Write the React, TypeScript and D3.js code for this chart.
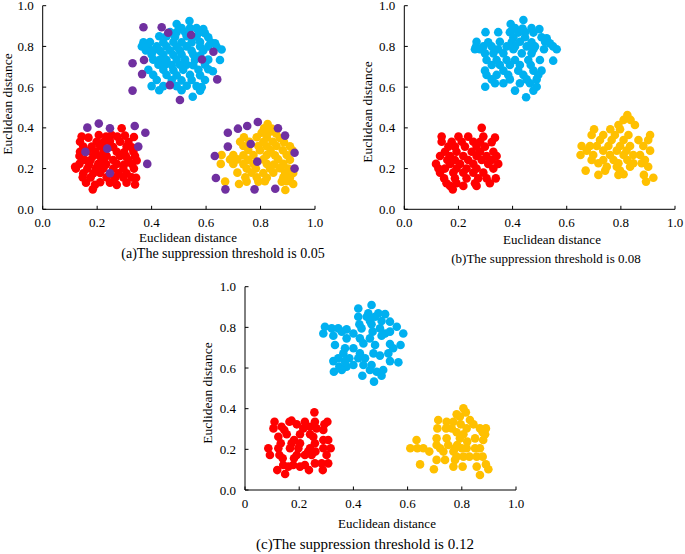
import React from "react";
import * as d3 from "d3";

type P = [number, number];

const xTicksA = ["0.0", "0.2", "0.4", "0.6", "0.8", "1.0"];
const xTicksC = ["0", "0.2", "0.4", "0.6", "0.8", "1.0"];
const yTicks = ["0.0", "0.2", "0.4", "0.6", "0.8", "1.0"];
const tickValues = [0, 0.2, 0.4, 0.6, 0.8, 1.0];

const captions = [
  "(a)The suppression threshold is 0.05",
  "(b)The suppression threshold is 0.08",
  "(c)The suppression threshold is 0.12",
];
const axisTitle = "Euclidean distance";

// Panel (a)
const blueA: P[] = [
  [0.539, 0.925], [0.492, 0.91], [0.51, 0.89], [0.541, 0.89], [0.565, 0.89], [0.59, 0.885],
  [0.468, 0.87], [0.492, 0.87], [0.523, 0.87], [0.575, 0.868], [0.596, 0.865],
  [0.428, 0.85], [0.455, 0.85], [0.486, 0.848], [0.529, 0.85], [0.565, 0.848], [0.608, 0.845],
  [0.37, 0.82], [0.394, 0.822], [0.443, 0.82], [0.48, 0.822], [0.51, 0.82], [0.547, 0.82], [0.578, 0.822], [0.617, 0.82], [0.633, 0.815],
  [0.364, 0.8], [0.388, 0.8], [0.419, 0.8], [0.455, 0.8], [0.492, 0.798], [0.529, 0.8], [0.578, 0.8], [0.608, 0.8], [0.639, 0.798], [0.657, 0.785],
  [0.379, 0.78], [0.406, 0.78], [0.431, 0.778], [0.468, 0.78], [0.504, 0.78], [0.547, 0.778], [0.59, 0.78],
  [0.4, 0.76], [0.443, 0.76], [0.48, 0.758], [0.51, 0.76], [0.553, 0.76], [0.578, 0.755],
  [0.406, 0.735], [0.431, 0.735], [0.455, 0.733], [0.492, 0.735], [0.523, 0.735], [0.559, 0.733], [0.608, 0.735], [0.651, 0.733],
  [0.425, 0.71], [0.449, 0.71], [0.474, 0.708], [0.504, 0.71], [0.529, 0.71], [0.553, 0.708], [0.596, 0.71],
  [0.388, 0.685], [0.443, 0.685], [0.48, 0.683], [0.516, 0.685], [0.572, 0.685], [0.608, 0.688], [0.625, 0.678],
  [0.406, 0.66], [0.455, 0.66], [0.492, 0.658], [0.541, 0.66], [0.578, 0.658],
  [0.419, 0.635], [0.474, 0.635], [0.51, 0.633], [0.547, 0.635], [0.596, 0.635],
  [0.4, 0.605], [0.443, 0.605], [0.492, 0.605], [0.529, 0.607], [0.565, 0.605], [0.584, 0.6],
  [0.428, 0.585], [0.51, 0.585], [0.578, 0.582], [0.551, 0.553],
];
const redA: P[] = [
  [0.29, 0.398], [0.206, 0.365], [0.253, 0.365], [0.302, 0.362],
  [0.143, 0.357], [0.168, 0.352], [0.233, 0.357], [0.274, 0.357], [0.335, 0.355],
  [0.137, 0.332], [0.198, 0.332], [0.223, 0.33], [0.247, 0.335], [0.284, 0.332], [0.315, 0.33],
  [0.149, 0.308], [0.18, 0.308], [0.211, 0.31], [0.259, 0.306], [0.308, 0.308], [0.327, 0.305],
  [0.137, 0.283], [0.164, 0.285], [0.193, 0.283], [0.223, 0.282], [0.272, 0.283], [0.299, 0.28], [0.333, 0.283],
  [0.135, 0.262], [0.186, 0.262], [0.211, 0.26], [0.235, 0.262], [0.284, 0.262], [0.306, 0.26], [0.339, 0.262],
  [0.155, 0.242], [0.176, 0.242], [0.223, 0.24], [0.259, 0.242], [0.315, 0.242], [0.345, 0.24],
  [0.135, 0.223], [0.171, 0.222], [0.204, 0.223], [0.233, 0.222], [0.272, 0.223], [0.299, 0.22], [0.327, 0.223],
  [0.122, 0.2], [0.164, 0.2], [0.196, 0.202], [0.223, 0.2], [0.259, 0.2], [0.296, 0.2], [0.335, 0.2],
  [0.149, 0.177], [0.186, 0.177], [0.211, 0.178], [0.278, 0.177], [0.308, 0.177],
  [0.147, 0.157], [0.176, 0.157], [0.235, 0.157], [0.266, 0.155], [0.296, 0.157], [0.327, 0.157], [0.343, 0.155],
  [0.159, 0.131], [0.211, 0.133], [0.247, 0.131], [0.308, 0.131],
  [0.192, 0.12], [0.272, 0.12], [0.339, 0.122], [0.184, 0.098], [0.119, 0.209],
];
const yellowA: P[] = [
  [0.826, 0.419], [0.813, 0.398], [0.841, 0.396], [0.804, 0.376], [0.829, 0.376], [0.857, 0.372],
  [0.739, 0.354], [0.786, 0.354], [0.823, 0.352], [0.87, 0.35],
  [0.725, 0.332], [0.759, 0.332], [0.81, 0.33], [0.845, 0.332], [0.886, 0.33],
  [0.737, 0.311], [0.792, 0.311], [0.823, 0.31], [0.859, 0.311], [0.908, 0.31],
  [0.755, 0.291], [0.798, 0.29], [0.837, 0.291], [0.882, 0.29], [0.918, 0.288],
  [0.657, 0.267], [0.7, 0.267], [0.737, 0.265], [0.774, 0.267], [0.823, 0.267], [0.853, 0.265], [0.896, 0.267],
  [0.688, 0.245], [0.715, 0.245], [0.755, 0.243], [0.81, 0.245], [0.865, 0.245], [0.908, 0.243],
  [0.654, 0.223], [0.7, 0.223], [0.737, 0.222], [0.774, 0.223], [0.823, 0.223], [0.849, 0.22], [0.884, 0.223],
  [0.749, 0.2], [0.783, 0.2], [0.835, 0.2], [0.871, 0.202], [0.902, 0.2],
  [0.715, 0.18], [0.767, 0.18], [0.81, 0.178], [0.847, 0.18], [0.89, 0.18], [0.92, 0.178],
  [0.744, 0.157], [0.786, 0.157], [0.823, 0.155], [0.884, 0.157], [0.908, 0.155],
  [0.67, 0.136], [0.749, 0.136], [0.792, 0.136], [0.816, 0.138], [0.878, 0.136], [0.896, 0.138],
  [0.721, 0.124], [0.92, 0.124], [0.891, 0.095],
];
const purpleA: P[] = [
  [0.37, 0.894], [0.437, 0.894], [0.461, 0.867], [0.545, 0.856], [0.627, 0.774], [0.585, 0.736],
  [0.372, 0.733], [0.33, 0.717], [0.365, 0.664], [0.641, 0.638], [0.467, 0.61], [0.33, 0.583], [0.504, 0.537],
  [0.164, 0.401], [0.206, 0.421], [0.247, 0.398], [0.338, 0.409], [0.377, 0.376], [0.351, 0.308],
  [0.237, 0.298], [0.157, 0.282], [0.384, 0.223], [0.247, 0.177],
  [0.717, 0.396], [0.751, 0.409], [0.79, 0.429], [0.864, 0.398], [0.89, 0.362], [0.68, 0.376],
  [0.764, 0.321], [0.68, 0.308], [0.632, 0.262], [0.925, 0.278], [0.788, 0.234], [0.925, 0.2],
  [0.636, 0.154], [0.671, 0.098], [0.778, 0.098], [0.854, 0.101],
];

// Panel (b)
const blueB: P[] = [
  [0.44, 0.93], [0.393, 0.91], [0.409, 0.89], [0.437, 0.888], [0.47, 0.89], [0.499, 0.885],
  [0.3, 0.87], [0.347, 0.87], [0.39, 0.87], [0.421, 0.868], [0.446, 0.87], [0.477, 0.868],
  [0.403, 0.845], [0.446, 0.845], [0.507, 0.845], [0.526, 0.84],
  [0.267, 0.823], [0.31, 0.82], [0.353, 0.823], [0.397, 0.822], [0.427, 0.823], [0.47, 0.82], [0.52, 0.823], [0.538, 0.815],
  [0.265, 0.8], [0.292, 0.8], [0.323, 0.8], [0.378, 0.8], [0.409, 0.8], [0.452, 0.8], [0.483, 0.8], [0.55, 0.8],
  [0.261, 0.786], [0.279, 0.786], [0.347, 0.786], [0.403, 0.786], [0.477, 0.786], [0.516, 0.786], [0.563, 0.786],
  [0.298, 0.766], [0.329, 0.766], [0.366, 0.766], [0.434, 0.766], [0.47, 0.766],
  [0.304, 0.733], [0.341, 0.733], [0.378, 0.733], [0.409, 0.733], [0.458, 0.733], [0.501, 0.733], [0.55, 0.73],
  [0.323, 0.709], [0.353, 0.709], [0.39, 0.709], [0.427, 0.709], [0.467, 0.709],
  [0.298, 0.681], [0.366, 0.681], [0.421, 0.681], [0.477, 0.681], [0.507, 0.681],
  [0.304, 0.66], [0.341, 0.66], [0.384, 0.66], [0.44, 0.66], [0.495, 0.66],
  [0.323, 0.638], [0.39, 0.638], [0.452, 0.638], [0.489, 0.638],
  [0.335, 0.619], [0.366, 0.619], [0.427, 0.619], [0.464, 0.619],
  [0.299, 0.602], [0.489, 0.602], [0.409, 0.583], [0.477, 0.583], [0.45, 0.55],
];
const redB: P[] = [
  [0.286, 0.4], [0.138, 0.357], [0.2, 0.357], [0.236, 0.357], [0.292, 0.357], [0.335, 0.352],
  [0.138, 0.332], [0.175, 0.332], [0.212, 0.332], [0.255, 0.332], [0.28, 0.332], [0.323, 0.33],
  [0.163, 0.308], [0.187, 0.308], [0.224, 0.308], [0.267, 0.308], [0.298, 0.308],
  [0.15, 0.283], [0.193, 0.283], [0.249, 0.283], [0.28, 0.283], [0.329, 0.283],
  [0.132, 0.262], [0.169, 0.262], [0.218, 0.262], [0.267, 0.262], [0.304, 0.262], [0.341, 0.262],
  [0.159, 0.242], [0.187, 0.242], [0.236, 0.242], [0.286, 0.242], [0.323, 0.242],
  [0.117, 0.223], [0.169, 0.223], [0.206, 0.223], [0.255, 0.223], [0.31, 0.223], [0.347, 0.223],
  [0.126, 0.2], [0.15, 0.2], [0.193, 0.2], [0.23, 0.2], [0.267, 0.2], [0.329, 0.2],
  [0.132, 0.18], [0.181, 0.18], [0.218, 0.18], [0.255, 0.18], [0.292, 0.18],
  [0.147, 0.152], [0.187, 0.152], [0.23, 0.152], [0.273, 0.152], [0.304, 0.152], [0.338, 0.152],
  [0.156, 0.128], [0.193, 0.128], [0.261, 0.128], [0.316, 0.128],
  [0.169, 0.115], [0.218, 0.115], [0.267, 0.115], [0.179, 0.098],
];
const yellowB: P[] = [
  [0.824, 0.463], [0.81, 0.439], [0.836, 0.439], [0.791, 0.414], [0.852, 0.414],
  [0.701, 0.393], [0.761, 0.393], [0.797, 0.393],
  [0.692, 0.365], [0.735, 0.365], [0.778, 0.365], [0.828, 0.365], [0.908, 0.365],
  [0.723, 0.34], [0.766, 0.34], [0.81, 0.34], [0.865, 0.34], [0.901, 0.34],
  [0.655, 0.311], [0.686, 0.311], [0.711, 0.311], [0.754, 0.311], [0.797, 0.311], [0.834, 0.311], [0.883, 0.311],
  [0.674, 0.288], [0.735, 0.288], [0.785, 0.288], [0.821, 0.288], [0.908, 0.288],
  [0.651, 0.267], [0.698, 0.267], [0.76, 0.267], [0.81, 0.267], [0.846, 0.267], [0.871, 0.267],
  [0.692, 0.242], [0.735, 0.242], [0.773, 0.242], [0.824, 0.242], [0.889, 0.242],
  [0.717, 0.226], [0.791, 0.226], [0.846, 0.226], [0.877, 0.226],
  [0.748, 0.209], [0.785, 0.209], [0.834, 0.209], [0.901, 0.209],
  [0.67, 0.19], [0.742, 0.19], [0.797, 0.19],
  [0.717, 0.169], [0.791, 0.169], [0.81, 0.172], [0.885, 0.169], [0.92, 0.155], [0.893, 0.136],
];

// Panel (c)
const blueC: P[] = [
  [0.467, 0.91], [0.418, 0.893], [0.455, 0.869], [0.492, 0.869], [0.517, 0.865],
  [0.418, 0.852], [0.449, 0.852], [0.48, 0.852], [0.461, 0.831], [0.504, 0.831], [0.535, 0.828],
  [0.422, 0.815], [0.467, 0.815], [0.295, 0.803], [0.56, 0.803],
  [0.32, 0.795], [0.344, 0.795], [0.375, 0.79], [0.43, 0.795], [0.498, 0.795],
  [0.357, 0.779], [0.471, 0.779], [0.535, 0.779], [0.289, 0.77], [0.4, 0.77], [0.517, 0.77], [0.584, 0.77],
  [0.326, 0.759], [0.504, 0.759], [0.375, 0.746], [0.424, 0.746], [0.461, 0.746],
  [0.437, 0.721], [0.535, 0.718], [0.332, 0.713], [0.48, 0.713], [0.574, 0.713],
  [0.369, 0.697], [0.4, 0.697], [0.547, 0.697], [0.363, 0.672], [0.424, 0.672], [0.474, 0.672], [0.529, 0.672],
  [0.498, 0.661], [0.344, 0.648], [0.385, 0.648], [0.418, 0.648], [0.443, 0.648],
  [0.326, 0.634], [0.369, 0.634], [0.535, 0.634], [0.566, 0.628],
  [0.4, 0.615], [0.437, 0.615], [0.467, 0.615], [0.348, 0.607], [0.375, 0.607],
  [0.357, 0.59], [0.461, 0.59], [0.51, 0.59], [0.328, 0.582], [0.486, 0.582],
  [0.433, 0.562], [0.504, 0.562], [0.476, 0.533],
];
const redC: P[] = [
  [0.256, 0.382], [0.172, 0.341], [0.109, 0.336], [0.164, 0.336], [0.221, 0.336], [0.258, 0.336], [0.304, 0.336],
  [0.191, 0.323], [0.293, 0.323], [0.135, 0.311], [0.24, 0.311], [0.105, 0.303], [0.215, 0.303], [0.264, 0.303],
  [0.145, 0.295], [0.289, 0.295], [0.154, 0.274], [0.203, 0.274], [0.24, 0.274], [0.123, 0.262], [0.252, 0.262],
  [0.181, 0.246], [0.289, 0.246], [0.307, 0.246], [0.132, 0.23], [0.172, 0.23], [0.203, 0.23], [0.258, 0.23],
  [0.086, 0.205], [0.123, 0.205], [0.166, 0.205], [0.197, 0.205], [0.24, 0.205], [0.289, 0.205], [0.316, 0.205],
  [0.233, 0.189], [0.26, 0.189], [0.092, 0.172], [0.127, 0.172], [0.191, 0.172], [0.221, 0.172], [0.246, 0.172], [0.301, 0.172],
  [0.139, 0.156], [0.181, 0.156], [0.258, 0.131], [0.283, 0.131], [0.307, 0.131],
  [0.141, 0.123], [0.178, 0.123], [0.221, 0.123], [0.16, 0.115], [0.203, 0.115],
  [0.119, 0.098], [0.236, 0.098], [0.287, 0.098], [0.148, 0.079],
];
const yellowC: P[] = [
  [0.806, 0.402], [0.815, 0.382], [0.781, 0.372], [0.793, 0.361], [0.713, 0.344], [0.83, 0.344],
  [0.744, 0.336], [0.769, 0.336], [0.796, 0.323], [0.843, 0.323],
  [0.71, 0.303], [0.742, 0.303], [0.763, 0.303], [0.818, 0.303], [0.867, 0.303], [0.889, 0.303],
  [0.781, 0.284], [0.877, 0.284], [0.806, 0.274], [0.886, 0.274],
  [0.707, 0.254], [0.744, 0.254], [0.793, 0.254], [0.849, 0.254], [0.633, 0.246], [0.879, 0.246], [0.82, 0.238],
  [0.707, 0.221], [0.75, 0.221], [0.783, 0.221],
  [0.61, 0.205], [0.636, 0.205], [0.658, 0.205], [0.72, 0.205], [0.775, 0.205], [0.8, 0.205], [0.818, 0.205], [0.849, 0.205], [0.867, 0.205],
  [0.68, 0.189], [0.732, 0.189], [0.769, 0.189],
  [0.781, 0.164], [0.806, 0.164], [0.828, 0.164], [0.855, 0.164], [0.877, 0.164],
  [0.707, 0.148], [0.738, 0.148], [0.775, 0.148], [0.646, 0.126], [0.889, 0.126],
  [0.769, 0.115], [0.803, 0.115], [0.855, 0.115], [0.697, 0.102], [0.898, 0.102], [0.867, 0.074],
];

const COLORS = { red: "#FF0000", blue: "#00B0F0", yellow: "#FFC000", purple: "#7030A0" };

interface PanelSpec {
  x0: number; x1: number; y0: number; y1: number;
  xTickLabels: string[];
  series: { pts: P[]; color: string }[];
  caption: string;
  yLabelX: number; yLabelY: number;
  xLabelX: number; xLabelY: number;
  capX: number; capY: number; capSize: number;
}

const FONT = "'Liberation Serif', 'Times New Roman', serif";

function Panel({ s }: { s: PanelSpec }) {
  const x = d3.scaleLinear().domain([0, 1]).range([s.x0, s.x1]);
  const y = d3.scaleLinear().domain([0, 1]).range([s.y0, s.y1]);
  const tl = 3.5;
  return (
    <g>
      {s.series.map((ser, i) => (
        <g key={i}>
          {ser.pts.map((p, j) => (
            <circle key={j} cx={x(p[0])} cy={y(p[1])} r={4.3} fill={ser.color} />
          ))}
        </g>
      ))}
      <line x1={s.x0} x2={s.x1} y1={s.y0} y2={s.y0} stroke="#000" strokeWidth={1} />
      <line x1={s.x0} x2={s.x0} y1={s.y0} y2={s.y1} stroke="#000" strokeWidth={1} />
      {tickValues.map((t, i) => (
        <g key={"x" + i}>
          <line x1={x(t)} x2={x(t)} y1={s.y0} y2={s.y0 - tl} stroke="#000" />
          <text x={x(t)} y={s.y0 + 18} textAnchor="middle" fontSize={13} fontFamily={FONT}>
            {s.xTickLabels[i]}
          </text>
        </g>
      ))}
      {tickValues.map((t, i) => (
        <g key={"y" + i}>
          <line x1={s.x0} x2={s.x0 + tl} y1={y(t)} y2={y(t)} stroke="#000" />
          <text x={s.x0 - 9} y={y(t) + 4.5} textAnchor="end" fontSize={13} fontFamily={FONT}>
            {yTicks[i]}
          </text>
        </g>
      ))}
      <text x={s.xLabelX} y={s.xLabelY} textAnchor="middle" fontSize={13} fontFamily={FONT}>
        {axisTitle}
      </text>
      <text
        transform={`translate(${s.yLabelX},${s.yLabelY}) rotate(-90)`}
        textAnchor="middle"
        fontSize={13.5}
        fontFamily={FONT}
      >
        {axisTitle}
      </text>
      <text x={s.capX} y={s.capY} textAnchor="middle" fontSize={s.capSize} fontFamily={FONT}>
        {s.caption}
      </text>
    </g>
  );
}

export default function App() {
  const panels: PanelSpec[] = [
    {
      x0: 42.7, x1: 315, y0: 209.3, y1: 5.7, xTickLabels: xTicksA,
      series: [
        { pts: blueA, color: COLORS.blue },
        { pts: redA, color: COLORS.red },
        { pts: yellowA, color: COLORS.yellow },
        { pts: purpleA, color: COLORS.purple },
      ],
      caption: captions[0], yLabelX: 12, yLabelY: 104, xLabelX: 188, xLabelY: 242,
      capX: 223, capY: 258, capSize: 14,
    },
    {
      x0: 404.3, x1: 675, y0: 209.3, y1: 5.7, xTickLabels: xTicksA,
      series: [
        { pts: blueB, color: COLORS.blue },
        { pts: redB, color: COLORS.red },
        { pts: yellowB, color: COLORS.yellow },
      ],
      caption: captions[1], yLabelX: 372, yLabelY: 112, xLabelX: 552, xLabelY: 244,
      capX: 546, capY: 263, capSize: 13,
    },
    {
      x0: 245, x1: 516, y0: 490, y1: 286.7, xTickLabels: xTicksC,
      series: [
        { pts: blueC, color: COLORS.blue },
        { pts: redC, color: COLORS.red },
        { pts: yellowC, color: COLORS.yellow },
      ],
      caption: captions[2], yLabelX: 212, yLabelY: 393, xLabelX: 387, xLabelY: 528,
      capX: 365, capY: 549, capSize: 15,
    },
  ];
  return (
    <svg
      width={685}
      height={554}
      style={{ position: "absolute", left: 0, top: 0, background: "#fff" }}
    >
      <rect width={685} height={554} fill="#fff" />
      {panels.map((p, i) => (
        <Panel key={i} s={p} />
      ))}
    </svg>
  );
}
